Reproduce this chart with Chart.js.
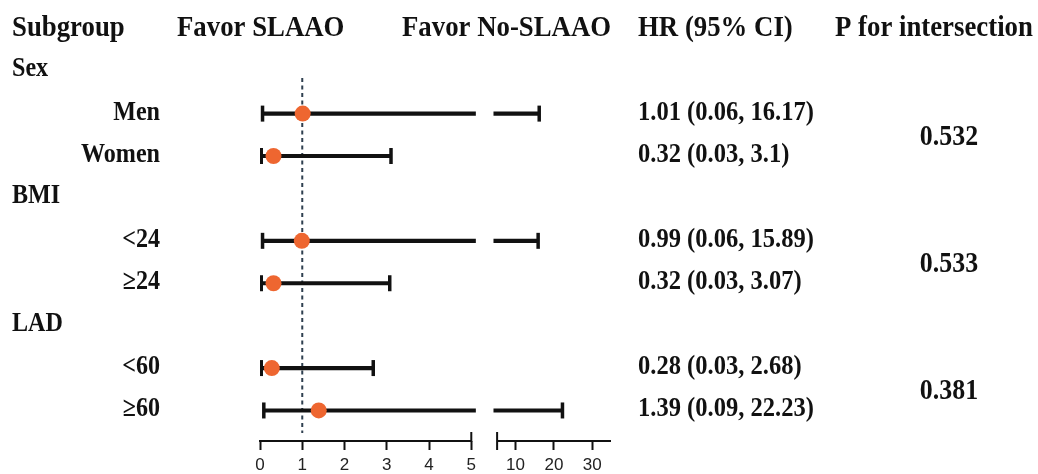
<!DOCTYPE html>
<html>
<head>
<meta charset="utf-8">
<script src="https://cdn.jsdelivr.net/npm/chart.js@4.4.0/dist/chart.umd.min.js"></script>
<style>
  html, body { margin: 0; padding: 0; background: #fff; }
  #wrap { position: relative; width: 1038px; height: 474px; }
</style>
</head>
<body>
<div id="wrap"><canvas id="forest"></canvas></div>
<script>
// data
const groupNames = ['Sex', 'BMI', 'LAD'];
const subgroupLabels = ['Men', 'Women', '<24', '≥24', '<60', '≥60'];
const subgroupGroup = [0, 0, 1, 1, 2, 2];
const hrValues = [1.01, 0.32, 0.99, 0.32, 0.28, 1.39];
const ciLow = [0.06, 0.03, 0.06, 0.03, 0.03, 0.09];
const ciHigh = [16.17, 3.1, 15.89, 3.07, 2.68, 22.23];
const pInteraction = ['0.532', '0.533', '0.381'];
const xTicks = [0, 1, 2, 3, 4, 5, 10, 20, 30];
const headerLabels = ['Subgroup', 'Favor SLAAO', 'Favor No-SLAAO', 'HR (95% CI)', 'P for intersection'];

// broken axis: 0-5 linear, then a compressed 5-35 piece
const LEFT_END = 5;
const RIGHT_START = 5.611;
const RIGHT_AT_10 = 6.047;
const RIGHT_K = 0.0908;
const AXIS_MAX = 8.306;
const LEFT_CUT = 5.1;
const RIGHT_PIECE = 5.533;
const toAxis = (v) => (v <= LEFT_END ? v : RIGHT_AT_10 + (v - 10) * RIGHT_K);

// row index for every line of the table
const rowOfSub = subgroupLabels.map((_, i) => subgroupGroup[i] * 3 + 1 + (i % 2));
const rowOfGroup = groupNames.map((_, g) => g * 3);

const INK = '#111111';
const DOT = '#EE6630';
const SERIF = '"Liberation Serif", "Times New Roman", serif';
const SX = 0.893;

const drawText = (ctx, text, x, y, size, align) => {
    ctx.save();
    ctx.font = `bold ${size}px ${SERIF}`;
    ctx.fillStyle = INK;
    ctx.textAlign = align;
    ctx.textBaseline = 'alphabetic';
    ctx.translate(x, y);
    ctx.scale(SX, 1);
    ctx.fillText(text, 0, 0);
    ctx.restore();
};

const tablePlugin = {
    id: 'forestTable',
    afterDraw(chart) {
        const { ctx, scales: { x, y }, chartArea } = chart;
        // broken axis line
        const axisY = chartArea.bottom;
        ctx.save();
        ctx.strokeStyle = INK;
        ctx.lineWidth = 2;
        ctx.beginPath();
        ctx.moveTo(x.getPixelForValue(0) - 1, axisY);
        ctx.lineTo(x.getPixelForValue(LEFT_END) + 1, axisY);
        ctx.moveTo(x.getPixelForValue(RIGHT_START), axisY);
        ctx.lineTo(x.getPixelForValue(AXIS_MAX), axisY);
        ctx.moveTo(x.getPixelForValue(LEFT_END), axisY - 9);
        ctx.lineTo(x.getPixelForValue(LEFT_END), axisY);
        ctx.moveTo(x.getPixelForValue(RIGHT_START), axisY - 9);
        ctx.lineTo(x.getPixelForValue(RIGHT_START), axisY + 9);
        ctx.stroke();
        ctx.restore();

        // header row
        const headerX = [12, 177, 402, 638, 835];
        headerLabels.forEach((t, i) => drawText(ctx, t, headerX[i], 36, 30, 'left'));

        // group titles
        groupNames.forEach((g, i) => {
            const py = y.getPixelForValue(rowOfGroup[i]) - 4;
            drawText(ctx, g, 12, py + 9, 27, 'left');
        });

        // subgroup labels and HR text
        subgroupLabels.forEach((s, i) => {
            const py = y.getPixelForValue(rowOfSub[i]) - 3;
            drawText(ctx, s, 160, py + 9, 27, 'right');
            const hrText = `${hrValues[i]} (${ciLow[i]}, ${ciHigh[i]})`;
            drawText(ctx, hrText, 638, py + 9, 27.5, 'left');
        });

        // interaction p values, centred between the pair of rows
        pInteraction.forEach((p, g) => {
            const py = (y.getPixelForValue(g * 3 + 1) + y.getPixelForValue(g * 3 + 2)) / 2;
            drawText(ctx, p, 949, py + 10, 29, 'center');
        });
    },
};

const leftPieces = hrValues.map((_, i) => ({
    x: [toAxis(ciLow[i]), Math.min(toAxis(ciHigh[i]), LEFT_CUT)],
    y: rowOfSub[i],
}));
const rightPieces = hrValues
    .map((_, i) => ({ x: [RIGHT_PIECE, toAxis(ciHigh[i])], y: rowOfSub[i], hi: ciHigh[i] }))
    .filter((d) => d.hi > LEFT_END);
const caps = [];
hrValues.forEach((_, i) => {
    caps.push({ x: toAxis(ciLow[i]), y: rowOfSub[i] });
    caps.push({ x: toAxis(ciHigh[i]), y: rowOfSub[i] });
});
const points = hrValues.map((v, i) => ({ x: toAxis(v), y: rowOfSub[i] }));

new Chart(document.getElementById('forest'), {
    type: 'bar',
    data: {
        datasets: [
            {
                type: 'line',
                data: [{ x: 1, y: 0.16 }, { x: 1, y: 8.53 }],
                borderColor: '#2f4050',
                borderWidth: 2,
                borderDash: [4, 3.5],
                pointRadius: 0,
                order: 4,
            },
            {
                data: leftPieces,
                backgroundColor: INK,
                barThickness: 3.5,
                grouped: false,
                order: 3,
            },
            {
                data: rightPieces,
                backgroundColor: INK,
                barThickness: 3.5,
                grouped: false,
                order: 3,
            },
            {
                type: 'scatter',
                data: caps,
                pointStyle: 'line',
                rotation: 90,
                radius: 8,
                borderWidth: 3.5,
                borderColor: INK,
                order: 2,
            },
            {
                type: 'scatter',
                data: points,
                pointStyle: 'circle',
                radius: 8,
                borderWidth: 0,
                backgroundColor: DOT,
                order: 1,
            },
        ],
    },
    options: {
        indexAxis: 'y',
        responsive: true,
        maintainAspectRatio: false,
        animation: false,
        layout: { padding: { left: 260, right: 427, top: 50, bottom: 0 } },
        plugins: { legend: { display: false }, tooltip: { enabled: false } },
        scales: {
            x: {
                type: 'linear',
                min: 0,
                max: AXIS_MAX,
                offset: false,
                afterBuildTicks: (scale) => {
                    scale.ticks = xTicks.map((v) => ({ value: toAxis(v) }));
                },
                afterFit: (scale) => { scale.height = 33; },
                ticks: {
                    autoSkip: false,
                    maxRotation: 0,
                    padding: 5,
                    color: '#222',
                    font: { family: '"Liberation Sans", Arial, sans-serif', size: 17 },
                    callback: (value, index) => String(xTicks[index]),
                },
                grid: {
                    drawOnChartArea: false,
                    drawTicks: true,
                    tickLength: 9,
                    tickColor: INK,
                    tickWidth: 2,
                },
                border: { display: false },
            },
            y: {
                type: 'linear',
                display: false,
                reverse: true,
                offset: false,
                min: -0.5,
                max: 8.72,
            },
        },
    },
    plugins: [tablePlugin],
});
</script>
</body>
</html>
